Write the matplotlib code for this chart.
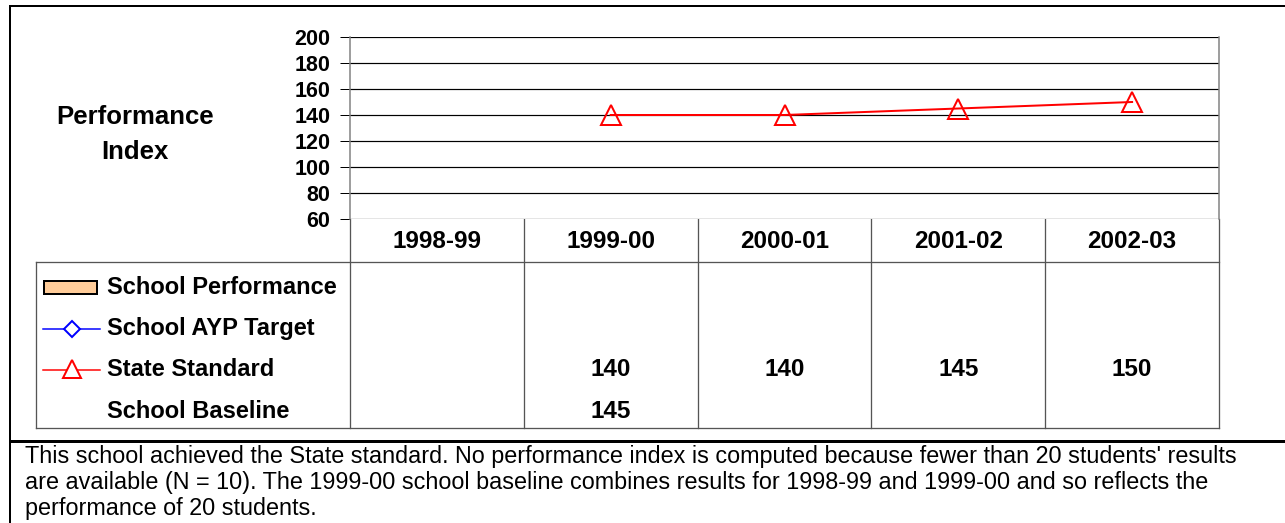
import matplotlib
matplotlib.use("Agg")
import matplotlib.pyplot as plt
import matplotlib.transforms as mtransforms
from matplotlib.patches import Rectangle
import numpy as np

# ---------------- data ----------------
years = ["1998-99", "1999-00", "2000-01", "2001-02", "2002-03"]
school_performance = [None, None, None, None, None]
school_ayp_target = [None, None, None, None, None]
state_standard = [None, 140, 140, 145, 150]
school_baseline = [None, 145, None, None, None]
row_labels = ["School Performance", "School AYP Target", "State Standard", "School Baseline"]
y_ticks = [60, 80, 100, 120, 140, 160, 180, 200]
y_title_lines = ["Performance", "Index"]
footnote_lines = [
    "This school achieved the State standard. No performance index is computed because fewer than 20 students' results",
    "are available (N = 10). The 1999-00 school baseline combines results for 1998-99 and 1999-00 and so reflects the",
    "performance of 20 students.",
]

plt.rcParams['font.family'] = ['Liberation Sans', 'DejaVu Sans']

W, H = 1285, 523
fig = plt.figure(figsize=(W / 100, H / 100), dpi=100)
fig.patch.set_facecolor("white")

# overlay axes in pixel coordinates for frame/table structure
ov = fig.add_axes([0, 0, 1, 1])
ov.set_xlim(0, W)
ov.set_ylim(H, 0)
ov.axis("off")
ov.patch.set_visible(False)

px = 0.72  # one pixel in points

# main plot axes
L, R, T, B = 350, 1219, 37, 219
ax = fig.add_axes([L / W, 1 - B / H, (R - L) / W, (B - T) / H])
ax.set_xlim(-0.5, len(years) - 0.5)
ax.set_ylim(60, 200)
ax.set_yticks(y_ticks)
ax.set_yticklabels([str(v) for v in y_ticks], fontsize=15.5, fontweight="bold")
ax.set_xticks([])
ax.tick_params(axis="y", direction="out", length=10 * px, width=1 * px, color="#000000", pad=7)
for v in y_ticks:
    ax.axhline(v, color="#000000", lw=1.2 * px, zorder=1)
for s in ["top", "bottom"]:
    ax.spines[s].set_visible(False)
ax.spines["left"].set_color("#808080")
ax.spines["right"].set_color("#808080")
ax.spines["left"].set_linewidth(1.5 * px)
ax.spines["right"].set_linewidth(1.5 * px)

xs = np.arange(len(years))
ss = np.array([np.nan if v is None else v for v in state_standard], dtype=float)
ax.plot(xs, ss, color="#FF0000", lw=2 * px, marker="^", markersize=15,
        markerfacecolor="none", markeredgecolor="#FF0000", markeredgewidth=2 * px, zorder=3, clip_on=False)

# y title
for k, line in enumerate(y_title_lines):
    ov.text(135, 117 + 35 * k, line, ha="center", va="center", fontsize=18.5, fontweight="bold")

# outer frame
ov.plot([10, 10], [6, H], color="black", lw=2 * px)
ov.plot([10, W], [6, 6], color="black", lw=2 * px)
ov.plot([10, W], [441, 441], color="black", lw=3 * px)

# table structure
tc = "#555555"
tlw = 1.3 * px
table_top, header_bot, table_bot, table_left = B, 262, 428, 36
trans_x = mtransforms.blended_transform_factory(ax.transData, ov.transData)
for i in range(len(years) + 1):
    ov.plot([i - 0.5, i - 0.5], [table_top, table_bot], color=tc, lw=tlw, transform=trans_x)
ov.plot([table_left, R], [header_bot, header_bot], color=tc, lw=tlw)
ov.plot([table_left, R], [table_bot, table_bot], color=tc, lw=tlw)
ov.plot([table_left, table_left], [header_bot, table_bot], color=tc, lw=tlw)

# header labels
for i, yr in enumerate(years):
    ov.text(i, 241, yr, ha="center", va="center", fontsize=17.5, fontweight="bold", transform=trans_x)

row_y = [287, 329, 370, 411]
# row labels
for lab, yy in zip(row_labels, row_y):
    ov.text(107, yy, lab, ha="left", va="center", fontsize=17, fontweight="bold")

# legend keys
ov.add_patch(Rectangle((44, 281), 53, 13, facecolor="#FFCC99", edgecolor="black", lw=2 * px))
ov.plot([43, 100], [329, 329], color="#0000FF", lw=1.5 * px)
ov.plot([71.5], [329], marker="D", markersize=8.5, markerfacecolor="white",
        markeredgecolor="#0000FF", markeredgewidth=2 * px)
ov.plot([43, 100], [370, 370], color="#FF0000", lw=1.5 * px)
ov.plot([71.5], [369], marker="^", markersize=13, markerfacecolor="white",
        markeredgecolor="#FF0000", markeredgewidth=2 * px)

# table values
series_rows = [school_performance, school_ayp_target, state_standard, school_baseline]
for vals, yy in zip(series_rows, row_y):
    for i, v in enumerate(vals):
        if v is not None:
            ov.text(i, yy, str(v), ha="center", va="center", fontsize=17.5, fontweight="bold",
                    transform=trans_x)

# footnote
for k, line in enumerate(footnote_lines):
    ov.text(25, 457 + 26 * k, line, ha="left", va="center", fontsize=16.8)

fig.savefig("out.png", dpi=100)
